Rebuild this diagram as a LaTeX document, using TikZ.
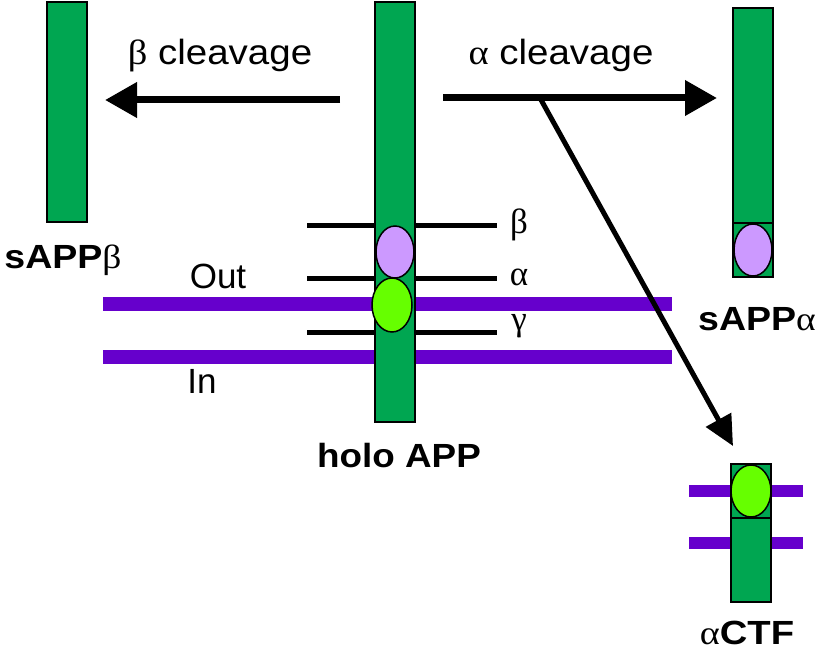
\documentclass[tikz,border=0pt]{standalone}
\usepackage{graphicx}
\usepackage{fontspec}
\setmainfont{Liberation Sans}
\newfontfamily\grk{Liberation Serif}
\usetikzlibrary{arrows.meta,shapes.geometric}
\definecolor{appgreen}{RGB}{0,166,81}
\definecolor{lilac}{RGB}{204,153,255}
\definecolor{lime}{RGB}{102,255,0}
\definecolor{memb}{RGB}{102,0,204}
\newcommand{\widetxt}[2]{\scalebox{#1}[1]{#2}}
\begin{document}
\begin{tikzpicture}[x=1pt,y=-1pt,
  bar/.style={draw=black,line width=1.5pt,fill=appgreen,rectangle,inner sep=0pt,outer sep=0pt,minimum width=40pt},
  blob/.style={draw=black,line width=1.5pt,ellipse,inner sep=0pt,outer sep=0pt,minimum width=38pt,minimum height=52pt},
  membline/.style={draw=memb,line width=14pt},
  smembline/.style={draw=memb,line width=12pt},
  siteline/.style={draw=black,line width=5pt},
  bigarrow/.style={draw=black,line width=7pt,-{Triangle[length=32pt,width=34pt]}},
  diagarrow/.style={draw=black,line width=5pt,-{Triangle[length=30pt,width=28pt]}},
  lbl/.style={font=\fontsize{35}{40}\selectfont,inner sep=0pt,anchor=base},
  blbl/.style={font=\fontsize{33.5}{40}\selectfont\bfseries,inner sep=0pt,anchor=base},
  glbl/.style={font=\fontsize{35}{40}\selectfont\grk,inner sep=0pt,anchor=base}]
\useasboundingbox (0,0) rectangle (824,650);
% membranes and cleavage site lines (behind bars)
\draw[membline] (103,304) -- (672,304);
\draw[membline] (103,357) -- (672,357);
\draw[siteline] (307,225) -- (497,225);
\draw[siteline] (307,278) -- (497,278);
\draw[siteline] (307,332) -- (497,332);
\draw[smembline] (689,491) -- (803,491);
\draw[smembline] (689,543) -- (803,543);
% bars
\node[bar,minimum height=220pt] (sappb) at (67,112) {};
\node[bar,minimum height=420pt] (holo) at (395,212) {};
\node[bar,minimum height=269pt] (sappa) at (753,142.5) {};
\node[bar,minimum height=138pt] (actf) at (751,533) {};
\draw[black,line width=1.5pt] (sappa.west |- 0,223) -- (sappa.east |- 0,223);
\draw[black,line width=1.5pt] (actf.west |- 0,518) -- (actf.east |- 0,518);
% domains
\node[blob,fill=lilac] (hb) at (395,252) {};
\node[blob,fill=lime,minimum width=40pt,minimum height=54pt] (hg) at (392,305) {};
\node[blob,fill=lilac] (ab) at (753,250) {};
\node[blob,fill=lime,minimum width=40pt] (cg) at (751,491) {};
% arrows
\coordinate (bs) at (340,100);
\coordinate (be) at (105,100);
\coordinate (as) at (443,98);
\coordinate (ae) at (717,98);
\coordinate (ds) at (540,98);
\coordinate (de) at (733,446);
\draw[bigarrow] (bs) -- (be);
\draw[bigarrow] (as) -- (ae);
\draw[diagarrow] (ds) -- (de);
% labels
\node[lbl] (tb) at (220,65) {\widetxt{1.1}{{\grk β} cleavage}};
\node[lbl] (ta) at (561,65) {\widetxt{1.1}{{\grk α} cleavage}};
\node[lbl] (tout) at (218,288) {Out};
\node[lbl] (tin) at (202,393) {In};
\node[glbl] (gb) at (519,233) {β};
\node[glbl] (ga) at (519,285) {α};
\node[glbl] (gg) at (519,330) {γ};
\node[blbl] (lsb) at (63,268) {\widetxt{1.12}{sAPP{\mdseries\grk β}}};
\node[blbl] (lsa) at (757,330) {\widetxt{1.12}{sAPP{\mdseries\grk α}}};
\node[blbl] (lholo) at (399,467) {\widetxt{1.1}{holo APP}};
\node[blbl] (lactf) at (747,644) {\widetxt{1.14}{{\mdseries\grk α}CTF}};
\end{tikzpicture}
\end{document}
